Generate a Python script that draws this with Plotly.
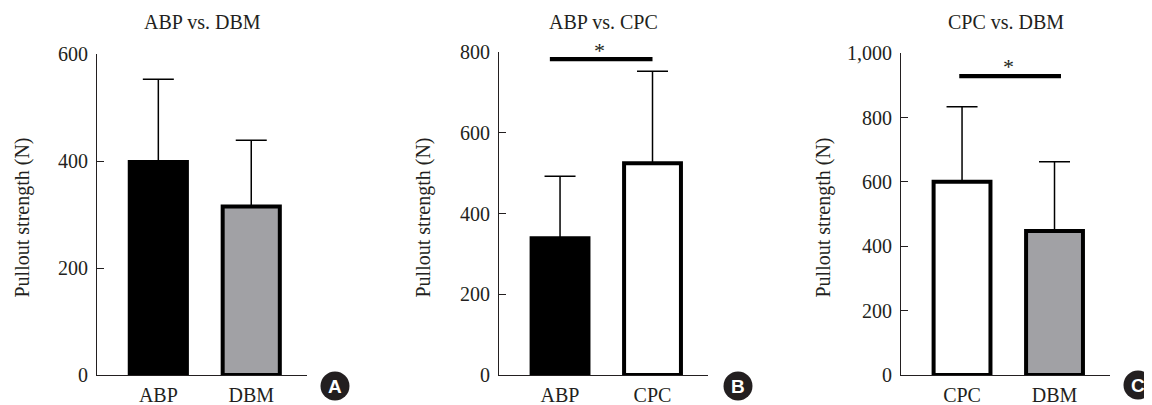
import plotly.graph_objects as go

# ---- data ----
cats_a = ["ABP", "DBM"]
mean_a = [398, 315]
sd_a = [155, 124]

cats_b = ["ABP", "CPC"]
mean_b = [339, 525]
sd_b = [154, 228]

cats_c = ["CPC", "DBM"]
mean_c = [601, 448]
sd_c = [233, 215]

titles = ["ABP vs. DBM", "ABP vs. CPC", "CPC vs. DBM"]
panel_letters = ["A", "B", "C"]
y_ranges = [[0, 600], [0, 800], [0, 1000]]
y_ticks = [[0, 200, 400, 600], [0, 200, 400, 600, 800], [0, 200, 400, 600, 800, 1000]]
sig_y = [None, 783, 929]

colors = {"ABP": "#000000", "DBM": "#a1a1a5", "CPC": "#ffffff"}

W, H = 1152, 405
OFF = 8  # page body margin in the browser
FONT = "Liberation Serif"
TXT = "#231f20"
FS = 20


def fx(px):
    return (px - OFF) / W


def fy(py):
    return (H - (py - OFF)) / H


# axis pixel geometry (screen pixels)
x_dom_px = [(97, 307), (499, 708), (901, 1110)]
y_top_px = [54, 52.3, 53.3]
y_bot_px = 375
ytitle_x_px = [22, 423, 823]
circle_px = [(335, 386), (738, 386), (1138, 385)]
star_px = [None, (0.43, 46), (0.5, 61.7)]

fig = go.Figure()
data = [(cats_a, mean_a, sd_a), (cats_b, mean_b, sd_b), (cats_c, mean_c, sd_c)]

for i, (cats, means, sds) in enumerate(data):
    xa = "x" if i == 0 else f"x{i+1}"
    ya = "y" if i == 0 else f"y{i+1}"
    fig.add_trace(go.Bar(
        x=cats, y=means,
        width=0.615,
        marker=dict(color=[colors[c] for c in cats], line=dict(color="#000000", width=4)),
        error_y=dict(type="data", array=sds, arrayminus=[0] * len(sds), symmetric=False,
                     color="#000000", thickness=1.5, width=15.5),
        xaxis=xa, yaxis=ya, showlegend=False, cliponaxis=False,
    ))

layout = dict(
    width=W, height=H,
    margin=dict(l=0, r=0, t=0, b=0, pad=0),
    paper_bgcolor="white", plot_bgcolor="white",
    font=dict(family=FONT, size=FS, color=TXT),
    shapes=[], annotations=[],
)

for i in range(3):
    xk = "xaxis" if i == 0 else f"xaxis{i+1}"
    yk = "yaxis" if i == 0 else f"yaxis{i+1}"
    xa = "x" if i == 0 else f"x{i+1}"
    ya = "y" if i == 0 else f"y{i+1}"
    x0, x1 = x_dom_px[i]
    layout[xk] = dict(
        domain=[fx(x0), fx(x1)], anchor=ya, type="category", automargin=False,
        range=[-0.66, 1.6], showline=True, linecolor=TXT, linewidth=1,
        ticks="", showgrid=False, zeroline=False,
        tickfont=dict(family=FONT, size=FS, color=TXT), ticklabelstandoff=2,
    )
    layout[yk] = dict(
        domain=[fy(y_bot_px), fy(y_top_px[i])], anchor=xa, automargin=False,
        range=y_ranges[i], tickvals=y_ticks[i], tickformat=",",
        showline=True, linecolor=TXT, linewidth=1,
        ticks="inside", ticklen=7, tickwidth=1, tickcolor=TXT,
        showgrid=False, zeroline=False,
        tickfont=dict(family=FONT, size=FS, color=TXT), ticklabelstandoff=4,
    )
    # panel title
    layout["annotations"].append(dict(
        text=titles[i], xref=f"{xa} domain", yref="paper", x=0.5, y=fy(22),
        showarrow=False, xanchor="center", yanchor="middle",
        font=dict(family=FONT, size=FS, color=TXT)))
    # y-axis title
    layout["annotations"].append(dict(
        text="Pullout strength (N)", xref="paper", yref="paper",
        x=fx(ytitle_x_px[i]), y=fy(217.5), textangle=-90,
        showarrow=False, xanchor="center", yanchor="middle",
        font=dict(family=FONT, size=FS, color=TXT)))
    # panel letter circle
    cx, cy = circle_px[i]
    layout["shapes"].append(dict(
        type="circle", xref="paper", yref="paper", xsizemode="pixel", ysizemode="pixel",
        xanchor=fx(cx), yanchor=fy(cy), x0=-14.5, x1=14.5, y0=-14.5, y1=14.5,
        fillcolor="#231f20", line=dict(width=0)))
    layout["annotations"].append(dict(
        text=f"<b>{panel_letters[i]}</b>", xref="paper", yref="paper",
        x=fx(cx), y=fy(cy), showarrow=False, xanchor="center", yanchor="middle",
        font=dict(family="Liberation Sans", size=19, color="white")))
    # significance bar
    if sig_y[i] is not None:
        lx0, lx1 = (-0.11, 1.0) if i == 1 else (-0.03, 1.07)
        layout["shapes"].append(dict(
            type="line", xref=xa, yref=ya, x0=lx0, x1=lx1, y0=sig_y[i], y1=sig_y[i],
            line=dict(color="#000000", width=4.3)))
        sx, spy = star_px[i]
        layout["annotations"].append(dict(
            text="*", xref=xa, yref=f"{ya} domain", x=sx,
            y=(y_bot_px - spy) / (y_bot_px - y_top_px[i]), showarrow=False,
            xanchor="center", yanchor="middle", yshift=-5,
            font=dict(family=FONT, size=22, color=TXT)))

fig.update_layout(**layout)
fig.write_html("out.html")
